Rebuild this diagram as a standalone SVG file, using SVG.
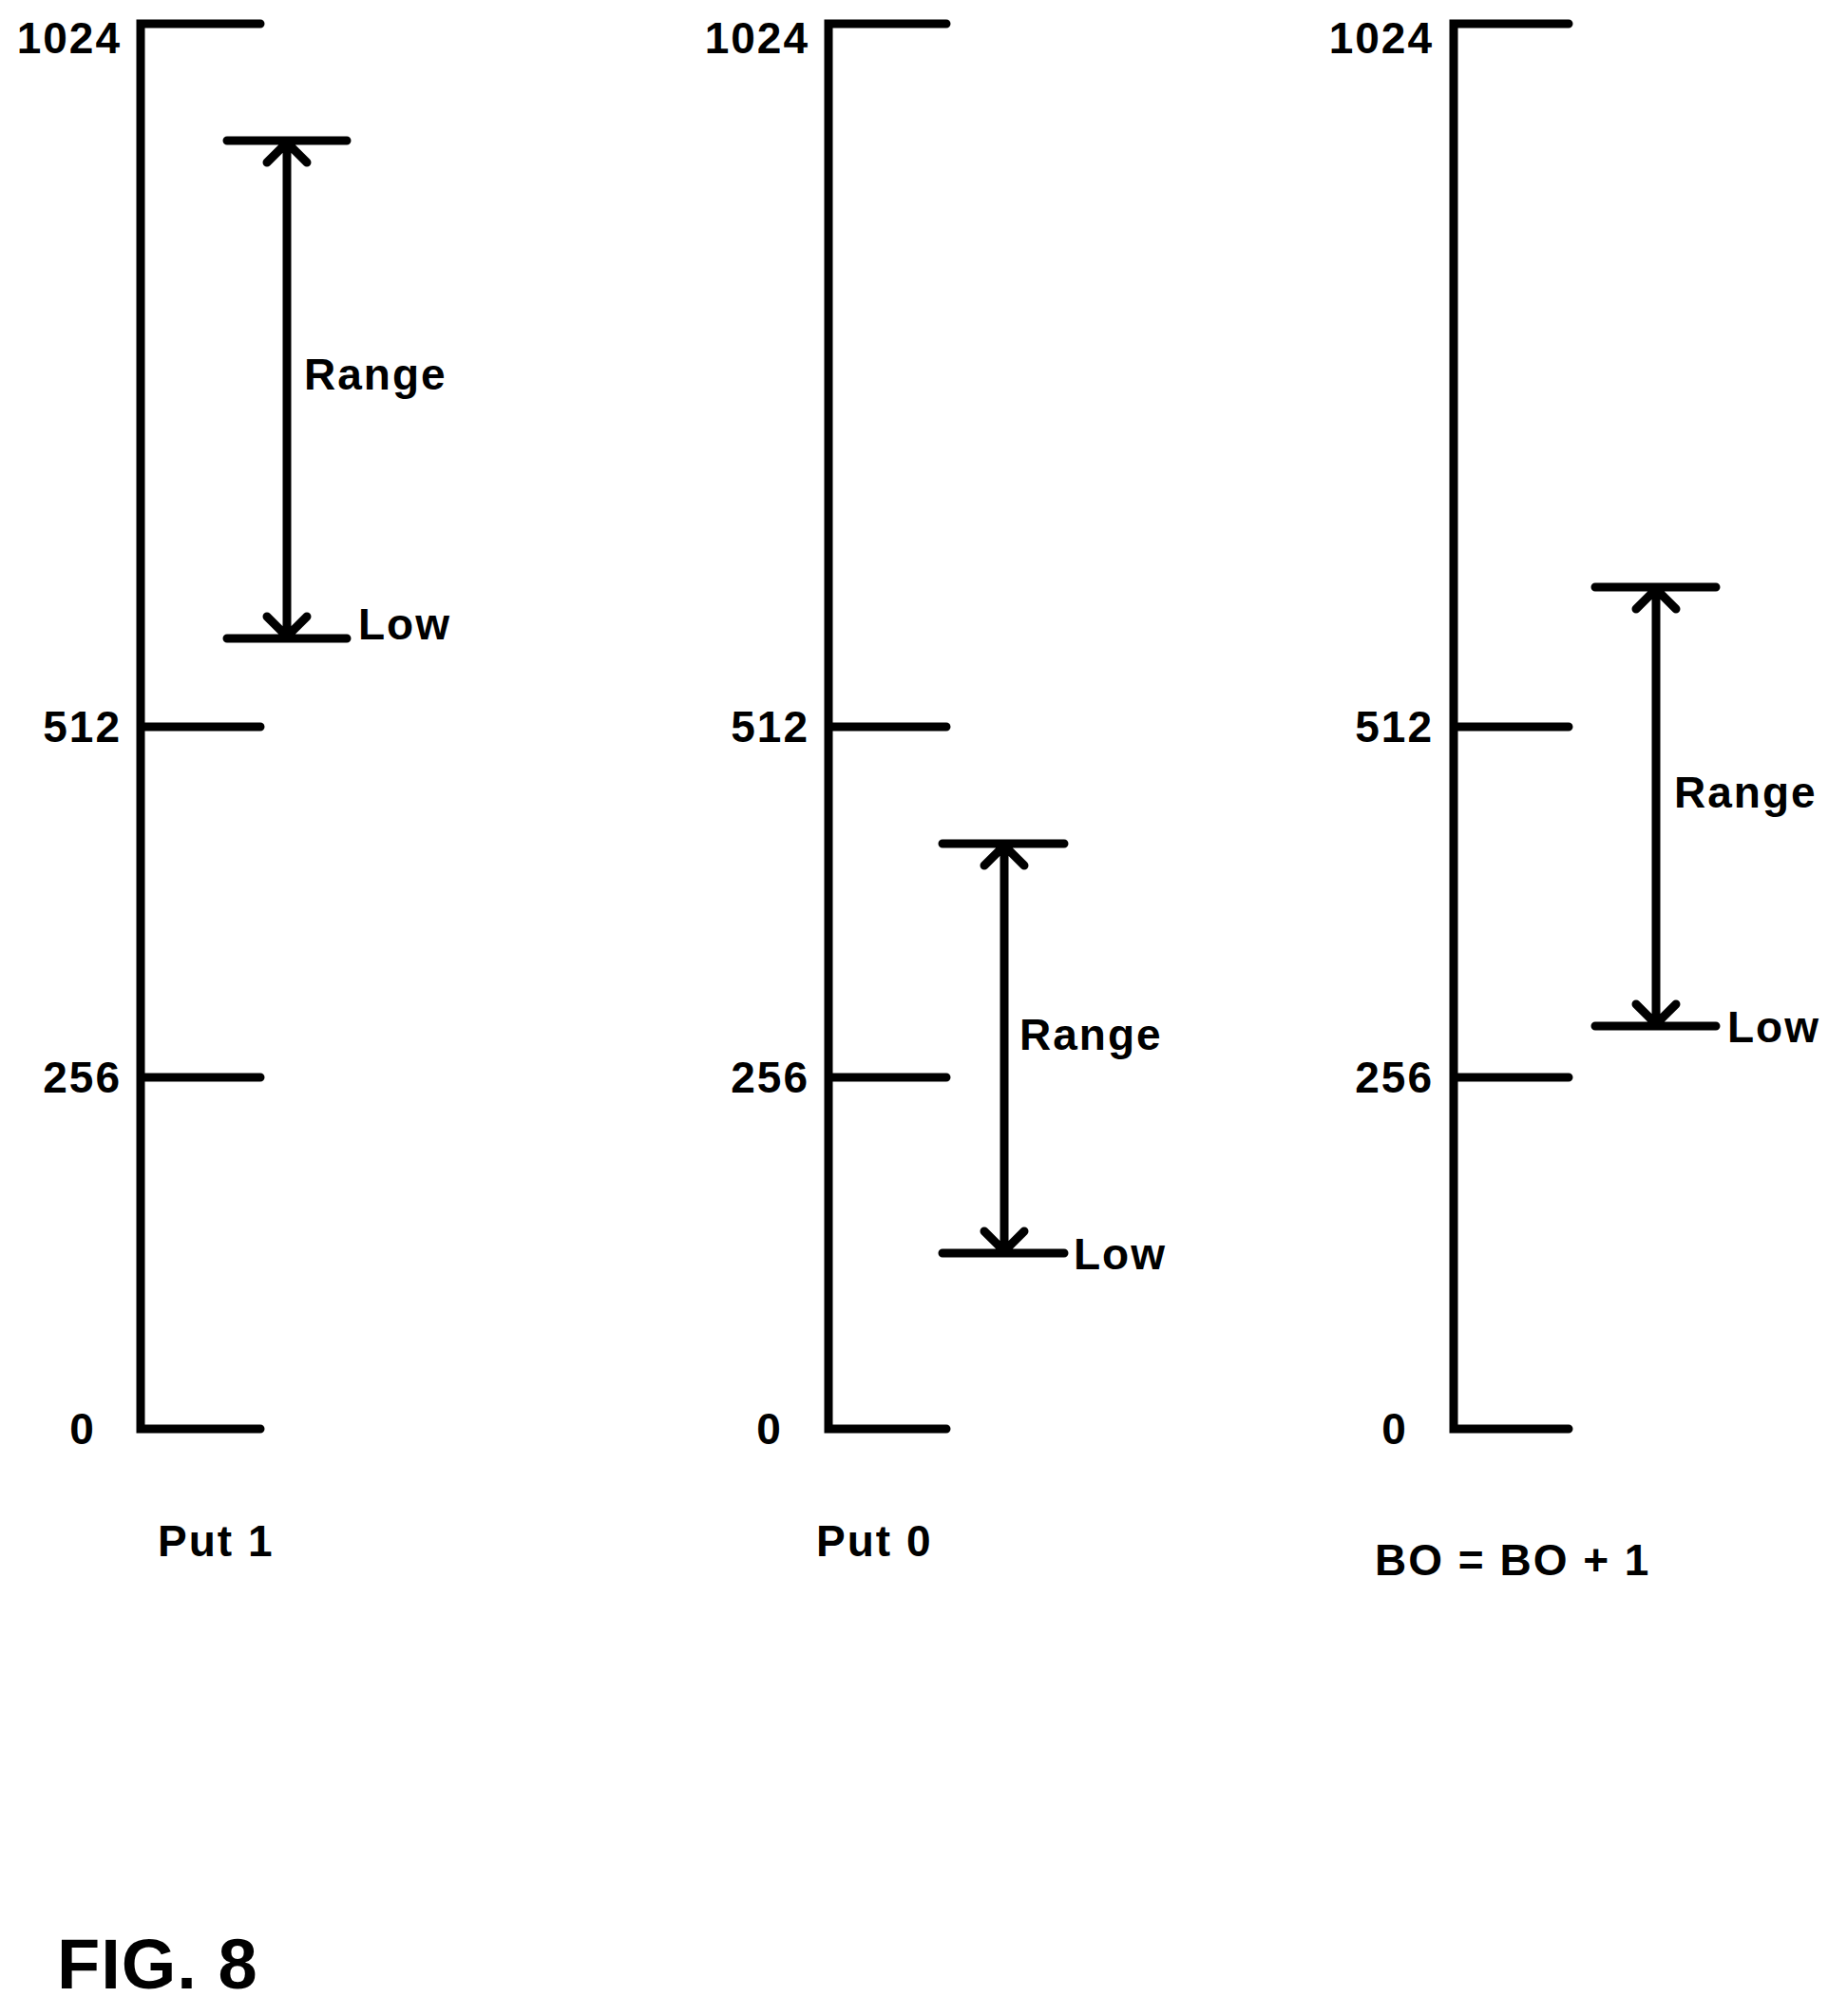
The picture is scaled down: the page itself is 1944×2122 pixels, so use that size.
<svg xmlns="http://www.w3.org/2000/svg" width="1944" height="2122" viewBox="0 0 1944 2122">
<style>
line,path{stroke:#000;stroke-width:9;stroke-linecap:round;fill:none}
text{font-family:"Liberation Sans",Arial,sans-serif;font-weight:bold;font-size:46px;letter-spacing:2px;fill:#000}
.n{text-anchor:end}
.c{text-anchor:middle}
</style>
<rect width="1944" height="2122" fill="#fff"/>
<g id="axis1">
<path d="M274 25H148V1504H274M148 765H274M148 1134H274"/>
<text class="n" x="128" y="56">1024</text><text class="n" x="128" y="781">512</text><text class="n" x="128" y="1150">256</text><text class="c" x="87" y="1520">0</text>
<text x="166" y="1638">Put 1</text>
</g>
<g id="axis2">
<path d="M996 25H872V1504H996M872 765H996M872 1134H996"/>
<text class="n" x="852" y="56">1024</text><text class="n" x="852" y="781">512</text><text class="n" x="852" y="1150">256</text><text class="c" x="810" y="1520">0</text>
<text x="859" y="1638">Put 0</text>
</g>
<g id="axis3">
<path d="M1651 25H1530V1504H1651M1530 765H1651M1530 1134H1651"/>
<text class="n" x="1509" y="56">1024</text><text class="n" x="1509" y="781">512</text><text class="n" x="1509" y="1150">256</text><text class="c" x="1468" y="1520">0</text>
<text x="1447" y="1658">BO = BO + 1</text>
</g>
<g id="connectors">
<path d="M239 148H365M239 672H365M302 150V670M281 171L302 150L323 171M281 649L302 670L323 649"/>
<path d="M992 888H1120M992 1319H1120M1057 890V1317M1036 911L1057 890L1078 911M1036 1296L1057 1317L1078 1296"/>
<path d="M1679 618H1806M1679 1080H1806M1743 620V1078M1722 641L1743 620L1764 641M1722 1057L1743 1078L1764 1057"/>
</g>
<g id="labels">
<text x="320" y="410">Range</text><text x="377" y="673">Low</text>
<text x="1073" y="1105">Range</text><text x="1130" y="1336">Low</text>
<text x="1762" y="850">Range</text><text x="1818" y="1097">Low</text>
<text x="60" y="2093" style="font-size:74px;letter-spacing:1px">FIG. 8</text>
</g>
</svg>
